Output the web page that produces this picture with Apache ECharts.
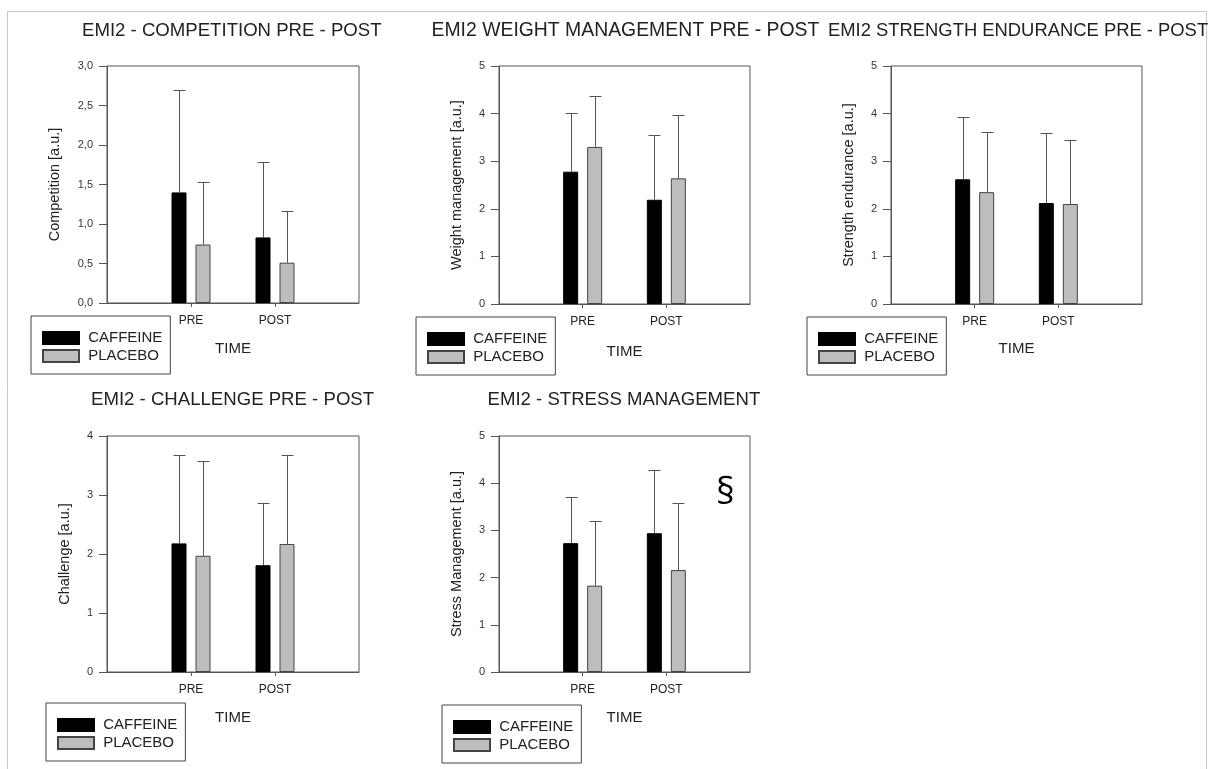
<!DOCTYPE html>
<html>
<head>
<meta charset="utf-8">
<script src="https://cdn.jsdelivr.net/npm/echarts@6/dist/echarts.min.js"></script>
<style>
  html, body { margin: 0; padding: 0; background: #fff; }
  #chart { width: 1208px; height: 769px; }
</style>
</head>
<body>
<div id="chart"></div>
<script>
// ---------- data ----------
const TIMEPOINTS = ['PRE', 'POST'];
const GROUPS = ['CAFFEINE', 'PLACEBO'];

const TITLES = [
  'EMI2 - COMPETITION PRE - POST',
  'EMI2 WEIGHT MANAGEMENT PRE - POST',
  'EMI2 STRENGTH ENDURANCE PRE - POST',
  'EMI2 - CHALLENGE PRE - POST',
  'EMI2 - STRESS MANAGEMENT'
];
const Y_NAMES = [
  'Competition [a.u.]',
  'Weight management [a.u.]',
  'Strength endurance [a.u.]',
  'Challenge [a.u.]',
  'Stress Management [a.u.]'
];
const Y_MAX = [3, 5, 5, 4, 5];
const Y_STEP = [0.5, 1, 1, 1, 1];

// means (PRE, POST)
const competitionCaffeine = [1.40, 0.83];
const competitionPlacebo  = [0.74, 0.51];
const weightCaffeine      = [2.78, 2.19];
const weightPlacebo       = [3.30, 2.64];
const strengthCaffeine    = [2.62, 2.12];
const strengthPlacebo     = [2.35, 2.10];
const challengeCaffeine   = [2.18, 1.81];
const challengePlacebo    = [1.97, 2.17];
const stressCaffeine      = [2.73, 2.94];
const stressPlacebo       = [1.83, 2.16];

// standard deviations (PRE, POST)
const competitionCaffeineSD = [1.29, 0.96];
const competitionPlaceboSD  = [0.79, 0.66];
const weightCaffeineSD      = [1.23, 1.35];
const weightPlaceboSD       = [1.07, 1.33];
const strengthCaffeineSD    = [1.30, 1.48];
const strengthPlaceboSD     = [1.26, 1.34];
const challengeCaffeineSD   = [1.49, 1.05];
const challengePlaceboSD    = [1.61, 1.50];
const stressCaffeineSD      = [0.97, 1.35];
const stressPlaceboSD       = [1.36, 1.43];

const MEANS = [
  [competitionCaffeine, competitionPlacebo],
  [weightCaffeine, weightPlacebo],
  [strengthCaffeine, strengthPlacebo],
  [challengeCaffeine, challengePlacebo],
  [stressCaffeine, stressPlacebo]
];
const SDS = [
  [competitionCaffeineSD, competitionPlaceboSD],
  [weightCaffeineSD, weightPlaceboSD],
  [strengthCaffeineSD, strengthPlaceboSD],
  [challengeCaffeineSD, challengePlaceboSD],
  [stressCaffeineSD, stressPlaceboSD]
];

// ---------- layout / style ----------
const FONT = "'Liberation Sans', Arial, sans-serif";
const TXT = '#222';
const AX = '#555';
const BAR_W = 15, BAR_GAP = 9;
const OFFSET = (BAR_W + BAR_GAP) / 2;
const FILL = ['#000000', '#bdbdbd'];
const BORDER = ['#000000', '#444444'];

const GRIDS = [
  { left: 107, top: 66, width: 252, height: 237 },
  { left: 499, top: 66, width: 251, height: 238 },
  { left: 891, top: 66, width: 251, height: 238 },
  { left: 107, top: 436, width: 252, height: 236 },
  { left: 499, top: 436, width: 251, height: 236 }
];
const TITLE_POS = [
  { left: 82, top: 20.5, size: 18.6 },
  { left: 431.5, top: 20.5, size: 19.4 },
  { left: 828, top: 20.5, size: 18.4 },
  { left: 91, top: 389.5, size: 18.6 },
  { left: 487.5, top: 389.5, size: 18.6 }
];
const LEGEND_POS = [
  { left: 31, top: 316 },
  { left: 416, top: 317 },
  { left: 807, top: 317 },
  { left: 46, top: 703 },
  { left: 442, top: 705 }
];
const X_NAME_GAP = [38, 40, 37, 38, 38];
const Y_NAME_GAP = [45, 35, 35, 35, 35];

const categories = [''].concat(TIMEPOINTS, ['']);

const option = {
  backgroundColor: '#fff',
  animation: false,
  textStyle: { fontFamily: FONT },
  title: TITLES.map((t, i) => ({
    text: t,
    left: TITLE_POS[i].left,
    top: TITLE_POS[i].top,
    textAlign: 'left',
    padding: 0,
    textStyle: { fontFamily: FONT, fontSize: TITLE_POS[i].size, fontWeight: 'normal', color: TXT, lineHeight: 20 }
  })),
  legend: LEGEND_POS.map(p => ({
    data: GROUPS,
    left: p.left,
    top: p.top,
    orient: 'vertical',
    icon: 'rect',
    itemWidth: 36,
    itemHeight: 12,
    itemGap: 3,
    padding: [14.5, 8, 10.5, 11],
    borderColor: '#444',
    borderWidth: 1,
    selectedMode: false,
    formatter: n => ' ' + n,
    textStyle: { fontFamily: FONT, fontSize: 15, color: TXT, lineHeight: 15 }
  })),
  grid: GRIDS.map(g => Object.assign({ show: true, borderColor: AX, borderWidth: 1, backgroundColor: 'transparent', containLabel: false }, g)),
  xAxis: GRIDS.map((g, i) => ({
    type: 'category',
    gridIndex: i,
    data: categories,
    boundaryGap: false,
    name: 'TIME',
    nameLocation: 'middle',
    nameGap: X_NAME_GAP[i],
    nameTextStyle: { fontFamily: FONT, fontSize: 15, color: TXT },
    axisLine: { show: true, lineStyle: { color: AX, width: 1 } },
    axisTick: { show: true, length: 4, lineStyle: { color: AX }, interval: (idx, v) => v !== '' },
    axisLabel: { show: true, interval: 0, margin: 11.5, fontSize: 12, color: TXT, fontFamily: FONT },
    splitLine: { show: false }
  })),
  yAxis: GRIDS.map((g, i) => ({
    type: 'value',
    gridIndex: i,
    min: 0,
    max: Y_MAX[i],
    interval: Y_STEP[i],
    name: Y_NAMES[i],
    nameLocation: 'middle',
    nameGap: Y_NAME_GAP[i],
    nameRotate: 90,
    nameTextStyle: { fontFamily: FONT, fontSize: 14.5, color: TXT },
    axisLine: { show: true, lineStyle: { color: AX, width: 1 } },
    axisTick: { show: true, length: 8, lineStyle: { color: AX } },
    axisLabel: {
      margin: 14, fontSize: 11, color: '#333', fontFamily: FONT,
      formatter: v => Y_STEP[i] < 1 ? v.toFixed(1).replace('.', ',') : String(v)
    },
    splitLine: { show: false }
  })),
  series: [],
  graphic: [
    // page frame (light grey border of the figure)
    { type: 'rect', shape: { x: 7.5, y: 11.5, width: 1199, height: 800 }, style: { fill: 'none', stroke: '#c8c8c8', lineWidth: 1 }, silent: true, z: -10 },
    // significance mark
    { type: 'text', left: 716, top: 475, style: { text: '§', font: "37px 'Open Sans', 'DejaVu Sans', sans-serif", fill: '#000' }, z: 10 }
  ]
};

function pad(arr) { return [null].concat(arr, [null]); }

GRIDS.forEach((g, i) => {
  GROUPS.forEach((name, k) => {
    option.series.push({
      name: name,
      type: 'bar',
      xAxisIndex: i,
      yAxisIndex: i,
      data: pad(MEANS[i][k]),
      barWidth: BAR_W,
      barGap: (BAR_GAP / BAR_W * 100) + '%',
      itemStyle: { color: FILL[k], borderColor: BORDER[k], borderWidth: 1 },
      emphasis: { disabled: true },
      z: 2
    });
  });
  GROUPS.forEach((name, k) => {
    const off = k === 0 ? -OFFSET : OFFSET;
    option.series.push({
      type: 'custom',
      xAxisIndex: i,
      yAxisIndex: i,
      silent: true,
      z: 3,
      data: TIMEPOINTS.map((t, j) => [j + 1, MEANS[i][k][j], SDS[i][k][j]]),
      renderItem: (params, api) => {
        const x = api.value(0), m = api.value(1), s = api.value(2);
        const b = api.coord([x, m]);
        const t = api.coord([x, m + s]);
        const cx = Math.round(b[0] + off) + 0.5;
        const ty = Math.round(t[1]) + 0.5;
        const st = { stroke: '#555', lineWidth: 1 };
        return {
          type: 'group',
          children: [
            { type: 'line', shape: { x1: cx, y1: b[1], x2: cx, y2: ty }, style: st },
            { type: 'line', shape: { x1: cx - 6, y1: ty, x2: cx + 6, y2: ty }, style: st }
          ]
        };
      }
    });
  });
});

const chart = echarts.init(document.getElementById('chart'), null, { renderer: 'canvas' });
chart.setOption(option);
</script>
</body>
</html>
